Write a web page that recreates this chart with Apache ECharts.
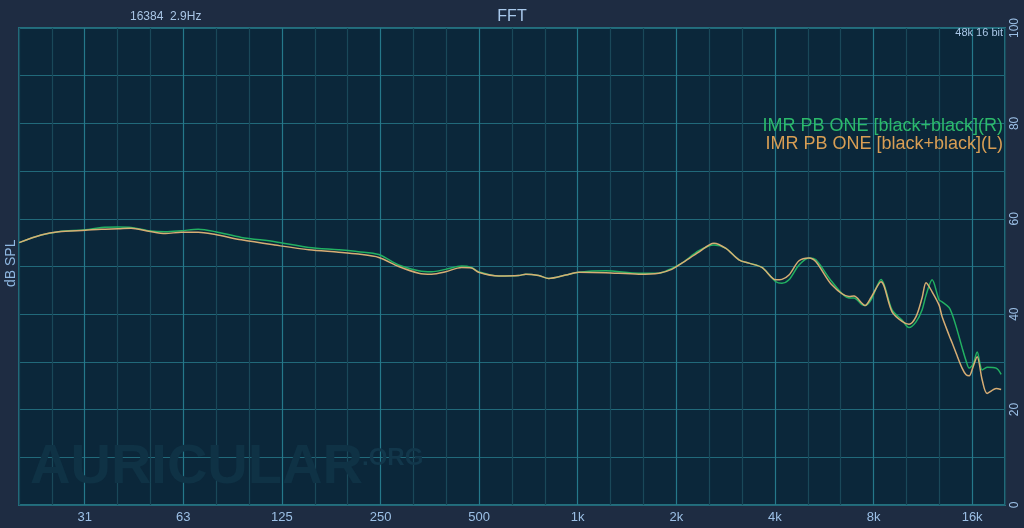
<!DOCTYPE html>
<html>
<head>
<meta charset="utf-8">
<script src="https://cdn.jsdelivr.net/npm/echarts@6/dist/echarts.min.js"></script>
<style>
  html, body { margin: 0; padding: 0; background: #1e2c42; }
  #chart { width: 1024px; height: 528px; }
</style>
</head>
<body>
<div id="chart"></div>
<script>
// Frequencies (Hz) shared by both channels
const freqHz = [19.7, 23, 26, 31.4, 35.1, 39.6, 43.3, 48.9, 55.1, 61.6, 69.4, 78.3, 94, 119, 151, 186, 214, 247, 284, 327, 358, 395, 442, 474, 498, 574, 660, 694, 760, 816, 919, 1007, 1218, 1536, 1768, 1937, 2079, 2342, 2605, 2834, 3106, 3331, 3650, 4028, 4202, 4414, 4737, 5081, 5337, 5975, 6732, 6974, 7376, 7536, 7862, 8433, 9113, 9774, 10267, 10786, 11251, 11576, 12075, 12684, 12950, 13605, 13901, 14300, 14909, 15338, 15670, 16112, 16576, 17173, 17778, 18947, 19618];
// Right channel (green), dB SPL
const dbRight = [55.0, 56.6, 57.3, 57.7, 58.2, 58.3, 58.2, 57.5, 57.3, 57.5, 57.8, 57.3, 56.1, 55.2, 54.0, 53.5, 53.1, 52.5, 50.3, 49.1, 48.9, 49.4, 50.1, 49.8, 48.9, 48.0, 48.1, 48.4, 48.1, 47.5, 48.2, 48.8, 49.1, 48.6, 48.6, 49.6, 50.7, 53.3, 54.5, 53.8, 51.4, 50.7, 49.8, 46.8, 46.5, 47.2, 50.3, 51.8, 51.4, 46.8, 43.4, 43.4, 42.0, 41.8, 43.0, 47.3, 40.9, 38.8, 37.2, 38.4, 40.9, 44.0, 47.2, 43.0, 42.6, 41.4, 40.0, 37.4, 33.0, 30.2, 28.7, 29.5, 32.1, 28.3, 28.9, 28.7, 27.4];
// Left channel (orange), dB SPL
const dbLeft = [55.0, 56.6, 57.3, 57.6, 57.8, 57.9, 58.0, 57.4, 56.9, 57.2, 57.2, 56.7, 55.6, 54.5, 53.5, 53.0, 52.6, 51.9, 50.0, 48.6, 48.4, 48.9, 49.8, 49.7, 48.8, 48.0, 48.1, 48.4, 48.1, 47.5, 48.2, 48.8, 48.7, 48.4, 48.6, 49.4, 50.7, 53.0, 54.9, 53.8, 51.4, 50.7, 49.8, 47.2, 47.3, 48.2, 51.2, 51.8, 51.0, 46.1, 43.7, 43.8, 42.3, 41.8, 43.5, 46.8, 40.5, 38.5, 37.9, 39.5, 43.4, 46.6, 44.7, 41.9, 39.5, 35.6, 34.0, 31.8, 28.7, 27.3, 27.1, 29.0, 31.1, 26.2, 23.4, 24.4, 24.2];

// X tick labels, placed in third-octave steps relative to 1 kHz
const tickThirds = [-15, -12, -9, -6, -3, 0, 3, 6, 9, 12];
const tickLabels = ['31', '63', '125', '250', '500', '1k', '2k', '4k', '8k', '16k'];
const yTickLabels = [0, 20, 40, 60, 80, 100];

const seriesNames = ['IMR PB ONE [black+black](R)', 'IMR PB ONE [black+black](L)'];

const thirdMin = -17, thirdMax = 13;
const fMin = 1000 * Math.pow(2, thirdMin / 3);
const fMax = 1000 * Math.pow(2, thirdMax / 3);

const chart = echarts.init(document.getElementById('chart'), null, { renderer: 'canvas' });

const labelColor = '#9cc0e6';
const font = 'Liberation Sans, Arial, Helvetica, sans-serif';

const option = {
  backgroundColor: '#1e2c42',
  animation: false,
  title: {
    text: 'FFT',
    left: 'center',
    top: 4,
    textStyle: { color: '#a9c9ec', fontSize: 16, fontWeight: 'normal', fontFamily: font }
  },
  legend: {
    orient: 'vertical',
    right: 11,
    top: 112,
    align: 'right',
    itemWidth: 0,
    itemHeight: 0,
    itemGap: 0,
    icon: 'rect',
    selectedMode: false,
    data: [
      { name: seriesNames[0], textStyle: { color: '#2cba6b' } },
      { name: seriesNames[1], textStyle: { color: '#d89e54' } }
    ],
    textStyle: { fontSize: 18, lineHeight: 17, fontFamily: font }
  },
  grid: {
    left: 19,
    right: 19,
    top: 28,
    bottom: 23,
    show: true,
    backgroundColor: '#0b273a',
    borderColor: '#236f7d',
    borderWidth: 2,
    containLabel: false,
    outerBoundsMode: 'none'
  },
  xAxis: [
    {
      type: 'log',
      logBase: 2,
      min: fMin,
      max: fMax,
      position: 'top',
      show: false
    },
    {
      type: 'value',
      min: thirdMin,
      max: thirdMax,
      interval: 1,
      position: 'bottom',
      axisLine: { show: false },
      axisTick: { show: false },
      axisLabel: {
        color: labelColor,
        fontSize: 13,
        fontFamily: font,
        margin: 6,
        showMinLabel: false,
        showMaxLabel: false,
        formatter: function (v) {
          const i = tickThirds.indexOf(Math.round(v));
          return i >= 0 ? tickLabels[i] : '';
        }
      },
      splitLine: {
        show: true,
        lineStyle: { color: ['#1a4859', '#1a4859', '#25788a'], width: 1.2 }
      }
    }
  ],
  yAxis: {
    type: 'value',
    position: 'right',
    min: 0,
    max: 100,
    interval: 10,
    axisLine: { show: false },
    axisTick: { show: false },
    axisLabel: {
      color: labelColor,
      fontSize: 12,
      fontFamily: font,
      rotate: 90,
      margin: 4,
      formatter: function (v) {
        return yTickLabels.indexOf(v) >= 0 ? String(v) : '';
      }
    },
    splitLine: { show: true, lineStyle: { color: '#21697a', width: 1.2 } }
  },
  graphic: [
    {
      type: 'text', left: 130, top: 11, z: 10,
      style: { text: '16384  2.9Hz', fill: '#a9c6e6', font: '12px ' + font }
    },
    {
      type: 'text', right: 21, top: 27, z: 10,
      style: { text: '48k 16 bit', fill: '#a9c6e6', font: '11px ' + font }
    },
    {
      type: 'text', x: 4, y: 287, rotation: Math.PI / 2, z: 10,
      style: { text: 'dB SPL', fill: '#8fb8e2', font: '14px ' + font }
    },
    {
      type: 'text', left: 30, top: 440, z: 1,
      style: { text: 'AURICULAR', fill: '#0f3245', font: 'bold 56px ' + font }
    },
    {
      type: 'text', left: 362, top: 446, z: 1,
      style: { text: '.ORG', fill: '#12374b', font: 'bold 24px ' + font }
    }
  ],
  series: [
    {
      name: seriesNames[0],
      type: 'line',
      xAxisIndex: 0,
      data: freqHz.map((f, i) => [f, dbRight[i]]),
      showSymbol: false,
      smooth: 0.3,
      lineStyle: { color: '#22b062', width: 1.5 },
      itemStyle: { color: '#2cba6b' },
      z: 3
    },
    {
      name: seriesNames[1],
      type: 'line',
      xAxisIndex: 0,
      data: freqHz.map((f, i) => [f, dbLeft[i]]),
      showSymbol: false,
      smooth: 0.3,
      lineStyle: { color: '#d7ad74', width: 1.5 },
      itemStyle: { color: '#d89e54' },
      z: 4
    }
  ]
};

chart.setOption(option);
</script>
</body>
</html>
